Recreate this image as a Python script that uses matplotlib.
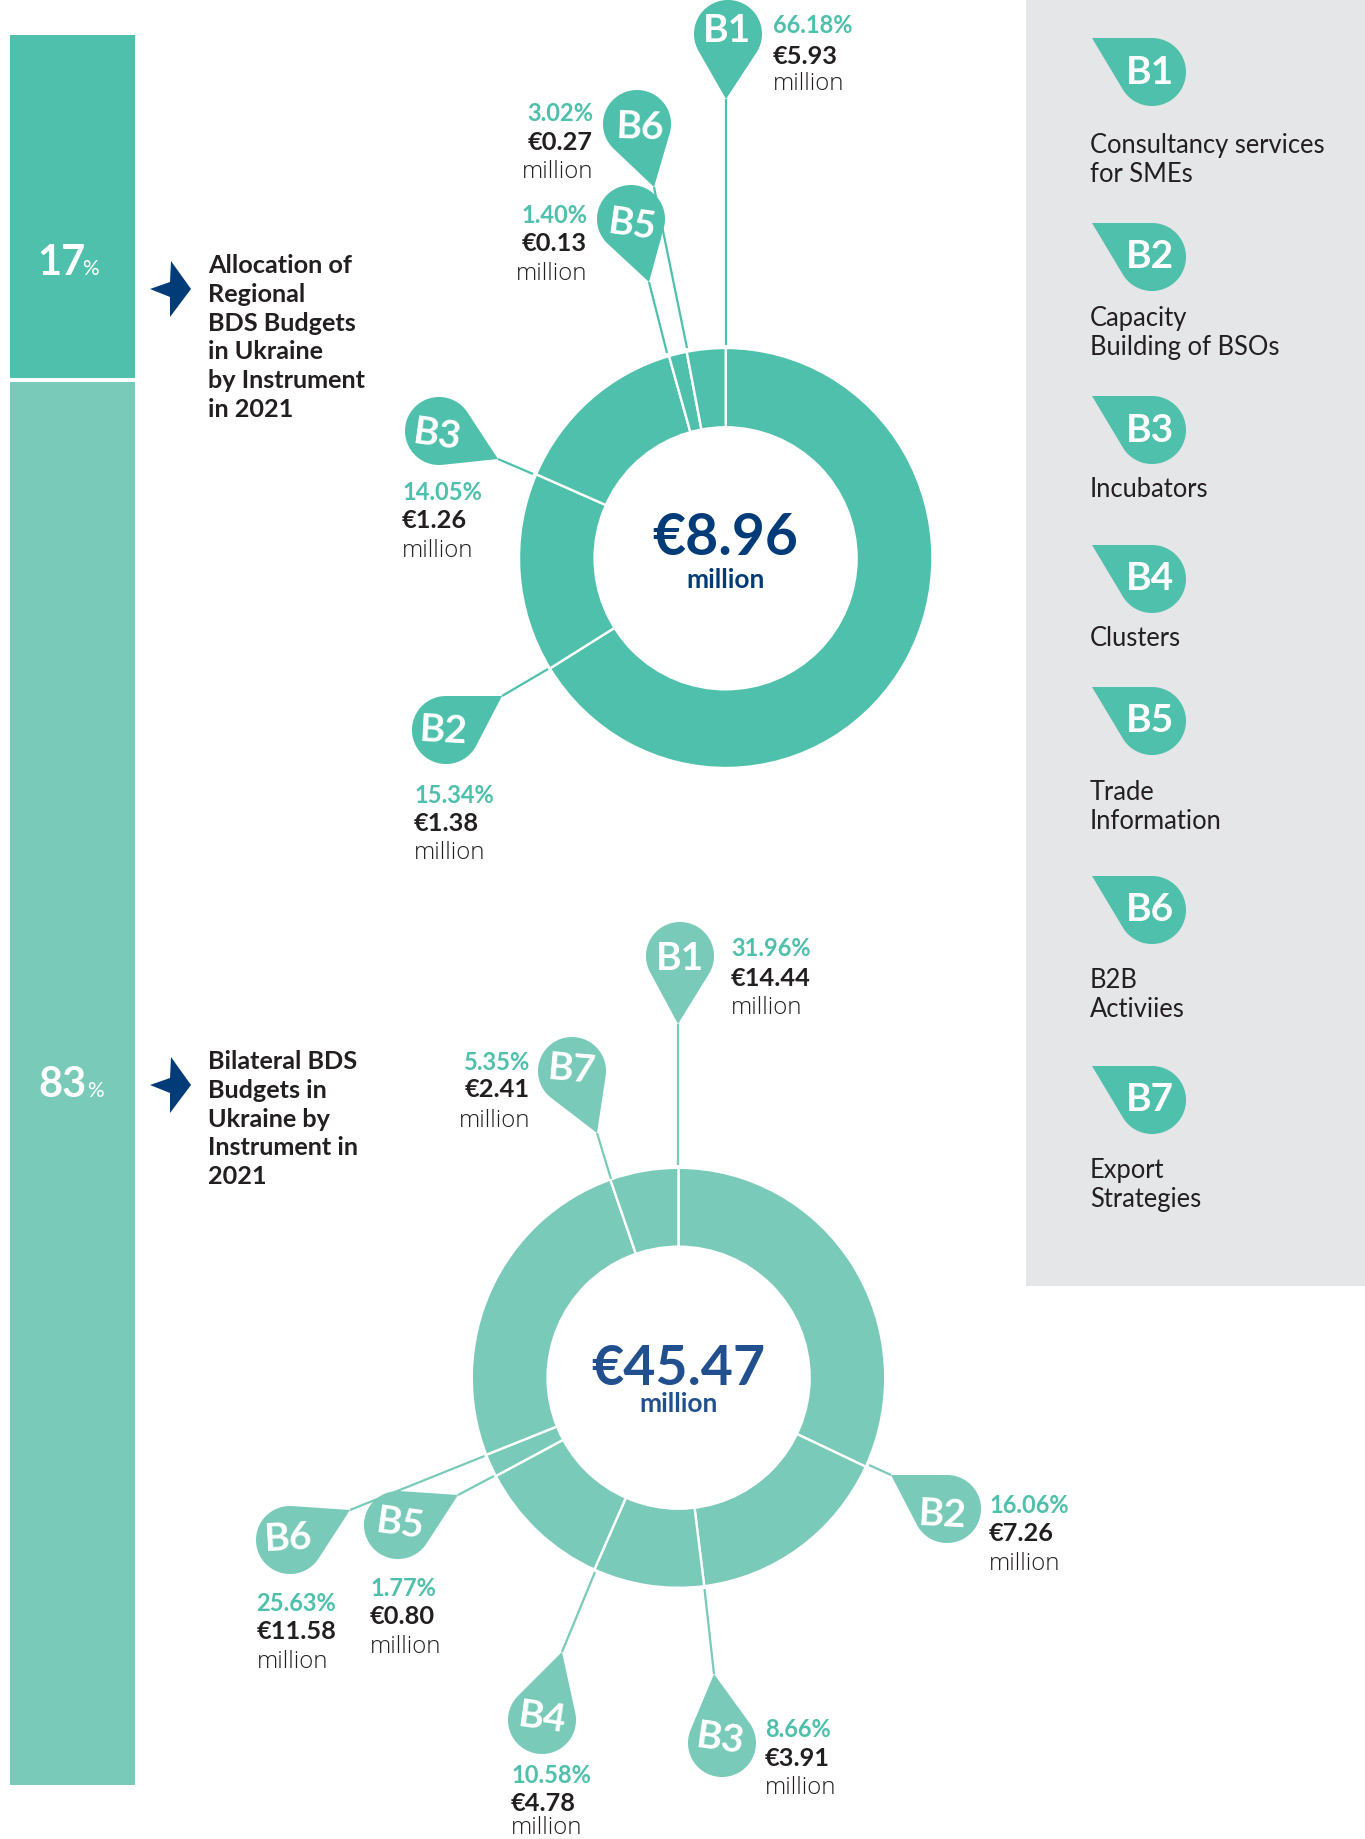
import numpy as np
import matplotlib
matplotlib.use("Agg")
import matplotlib.pyplot as plt
from matplotlib.patches import Polygon, Rectangle, Circle

W, H = 1365, 1840
TEAL = '#4EC0AB'
TEAL2 = '#79CAB9'
NAVY = '#023C78'
NAVY2 = '#22508F'
INK = '#231F20'
PANEL = '#E5E6E8'
plt.rcParams['font.family'] = ['Lato', 'DejaVu Sans']

# ---- data ----
share_values = [17, 83]
share_colors = [TEAL, TEAL2]

regional_total = 8.96
regional_labels = ['B1', 'B2', 'B3', 'B5', 'B6']
regional_pct = [66.18, 15.34, 14.05, 1.40, 3.02]
regional_eur = [5.93, 1.38, 1.26, 0.13, 0.27]

bilateral_total = 45.47
bilateral_labels = ['B1', 'B2', 'B3', 'B4', 'B5', 'B6', 'B7']
bilateral_pct = [31.96, 16.06, 8.66, 10.58, 1.77, 25.63, 5.35]
bilateral_eur = [14.44, 7.26, 3.91, 4.78, 0.80, 11.58, 2.41]

legend_labels = ['B1', 'B2', 'B3', 'B4', 'B5', 'B6', 'B7']
legend_texts = [['Consultancy services', 'for SMEs'], ['Capacity', 'Building of BSOs'],
                ['Incubators'], ['Clusters'], ['Trade', 'Information'],
                ['B2B', 'Activiies'], ['Export', 'Strategies']]
heading_regional = ['Allocation of', 'Regional', 'BDS Budgets', 'in Ukraine', 'by Instrument', 'in 2021']
heading_bilateral = ['Bilateral BDS', 'Budgets in', 'Ukraine by', 'Instrument in', '2021']

# ---- layout (pixels) ----
# label: pin centre, pin tip, leader end, label centre, rotation, text x, alignment, 3 baselines
regional_layout = {
    'B1': ((728, 35), (726, 100), (726, 346), (727, 28), 0, 773, 'left', (33, 64, 90)),
    'B2': ((446, 731), (502, 697), (548, 670), (444, 728), -3, 414, 'left', (803, 831, 859)),
    'B3': ((439, 432), (498, 460), (533, 475), (437, 432), -8, 402, 'left', (500, 528, 557)),
    'B5': ((631, 220), (649, 283), (667, 354), (632, 222), -8, 587, 'right', (223, 251, 280)),
    'B6': ((637, 125), (654, 188), (687, 349), (640, 124), -2, 593, 'right', (121, 150, 178)),
}
bilateral_layout = {
    'B1': ((680, 957), (678, 1025), (678, 1166), (680, 956), 0, 731, 'left', (956, 986, 1014)),
    'B2': ((947, 1510), (891, 1476), (869, 1466), (943, 1512), -3, 989, 'left', (1513, 1541, 1570)),
    'B3': ((722, 1744), (714, 1675), (704.5, 1590), (720, 1736), -8, 765, 'left', (1737, 1766, 1794)),
    'B4': ((542, 1721), (562, 1653), (595, 1573), (542, 1715), -8, 511, 'left', (1783, 1811, 1834)),
    'B5': ((398, 1526), (458, 1496), (494, 1477), (400, 1521), -8, 370, 'left', (1596, 1624, 1653)),
    'B6': ((290, 1541), (350, 1511), (484.5, 1457), (288, 1535), 3, 256.5, 'left', (1611, 1639, 1668)),
    'B7': ((572, 1072), (597, 1134), (611, 1180), (572, 1067), -5, 530, 'right', (1070, 1097, 1127)),
}
legend_centres_y = [73, 258, 431, 580, 722, 911, 1101]
legend_baselines = [(153, 182), (326, 355), (497,), (646,), (800, 829), (988, 1017), (1178, 1207)]
LABEL_DY = 3


def px_axes(fig, x0, y0, x1, y1, **kw):
    return fig.add_axes([x0 / W, 1 - y1 / H, (x1 - x0) / W, (y1 - y0) / H], **kw)


def donut(fig, cx, cy, rx, ry, values, color):
    ax = px_axes(fig, cx - rx, cy - ry, cx + rx, cy + ry)
    ax.pie(values, startangle=90, counterclock=False, radius=1, colors=[color],
           wedgeprops=dict(edgecolor='white', linewidth=1.7))
    ax.set_xlim(-1, 1)
    ax.set_ylim(-1, 1)
    ax.set_aspect('auto')
    ax.axis('off')


def teardrop(ax, c, tip, r, color, z=5):
    c = np.array(c, float)
    tip = np.array(tip, float)
    d = np.hypot(*(tip - c))
    phi = np.arctan2(*(tip - c)[::-1])
    alpha = np.arccos(r / d)
    th = np.linspace(phi + alpha, phi + 2 * np.pi - alpha, 90)
    pts = np.column_stack([c[0] + r * np.cos(th), c[1] + r * np.sin(th)])
    ax.add_patch(Polygon(np.vstack([tip, pts]), closed=True, fc=color, ec='none', zorder=z))


def callouts(ax, labels, pct, eur, layout, color):
    for lab, p, e in zip(labels, pct, eur):
        c, tip, end, lc, rot, tx, ha, ys = layout[lab]
        ax.plot([tip[0], end[0]], [tip[1], end[1]], color=color, lw=1.6, solid_capstyle='butt', zorder=3)
        teardrop(ax, c, tip, 34, color)
        ax.text(lc[0], lc[1] + LABEL_DY, lab, color='white', fontsize=28, fontweight='bold', ha='center',
                va='center', rotation=rot, rotation_mode='anchor', zorder=6)
        ax.text(tx, ys[0], f'{p:.2f}%', color=TEAL, fontsize=17, fontweight='bold', ha=ha, va='baseline', zorder=6)
        ax.text(tx, ys[1], f'€{e:.2f}', color=INK, fontsize=18.3, fontweight='bold', ha=ha, va='baseline', zorder=6)
        ax.text(tx, ys[2], 'million', color=INK, fontsize=17.3, family='Open Sans', fontweight='light',
                ha=ha, va='baseline', zorder=6)


fig = plt.figure(figsize=(W / 100, H / 100), dpi=100, facecolor='white')

# stacked share bar, one axes per segment
bar_boxes = [(36, 379), (383, 1786)]
for v, col, (y0, y1) in zip(share_values, share_colors, bar_boxes):
    bax = px_axes(fig, 10, y0, 135, y1)
    bax.bar([0], [v], width=1, color=col)
    bax.set_xlim(-0.5, 0.5)
    bax.set_ylim(0, v)
    bax.axis('off')

donut(fig, 725.7, 559, 206.7, 210, regional_pct, TEAL)
donut(fig, 678.5, 1378.8, 206.7, 210, bilateral_pct, TEAL2)

ax = fig.add_axes([0, 0, 1, 1], facecolor='none')
ax.set_xlim(0, W)
ax.set_ylim(H, 0)
ax.axis('off')

ax.add_patch(Rectangle((1026, 0), W - 1026, 1287, fc=PANEL, ec='none', zorder=0))
ax.add_patch(Circle((725.6, 559.3), 132.2, fc='white', ec='none', zorder=1))
ax.add_patch(Circle((678.6, 1378.7), 132.2, fc='white', ec='none', zorder=1))

# share labels
for v, (x, y, px) in zip(share_values, [(37, 275, 82), (38, 1097, 87)]):
    ax.text(x, y, f'{v}', color='white', fontsize=30, fontweight='bold', ha='left', va='baseline')
    ax.text(px, y, '%', color='white', fontsize=15, ha='left', va='baseline')

# arrows and headings
for dy, lines, start in [(0, heading_regional, 273), (796, heading_bilateral, 1069)]:
    ax.add_patch(Polygon([(150, 290 + dy), (170, 283 + dy), (171, 262 + dy), (191, 290 + dy),
                          (170, 318 + dy), (170, 298 + dy)], closed=True, fc=NAVY, ec='none'))
    for i, t in enumerate(lines):
        ax.text(208, start + i * 28.8, t, color=INK, fontsize=18.2, fontweight='bold', ha='left', va='baseline')

callouts(ax, regional_labels, regional_pct, regional_eur, regional_layout, TEAL)
callouts(ax, bilateral_labels, bilateral_pct, bilateral_eur, bilateral_layout, TEAL2)

# totals
for cx, total, col, y1, y2, fs in [(725.5, regional_total, NAVY, 555, 588, 41),
                                   (678.5, bilateral_total, NAVY2, 1385, 1412, 40)]:
    ax.text(cx, y1, f'€{total:.2f}', color=col, fontsize=fs, fontweight='bold', ha='center', va='baseline')
    ax.text(cx, y2, 'million', color=col, fontsize=19, fontweight='bold', ha='center', va='baseline')

# legend
for lab, cy, lines, ys in zip(legend_labels, legend_centres_y, legend_texts, legend_baselines):
    teardrop(ax, (1152, cy), (1092, cy - 34), 34, TEAL)
    ax.text(1150, cy - 4 + LABEL_DY, lab, color='white', fontsize=28, fontweight='bold', ha='center', va='center', zorder=6)
    for t, y in zip(lines, ys):
        ax.text(1090, y, t, color=INK, fontsize=18.4, ha='left', va='baseline')

fig.savefig('out.png', dpi=100)
